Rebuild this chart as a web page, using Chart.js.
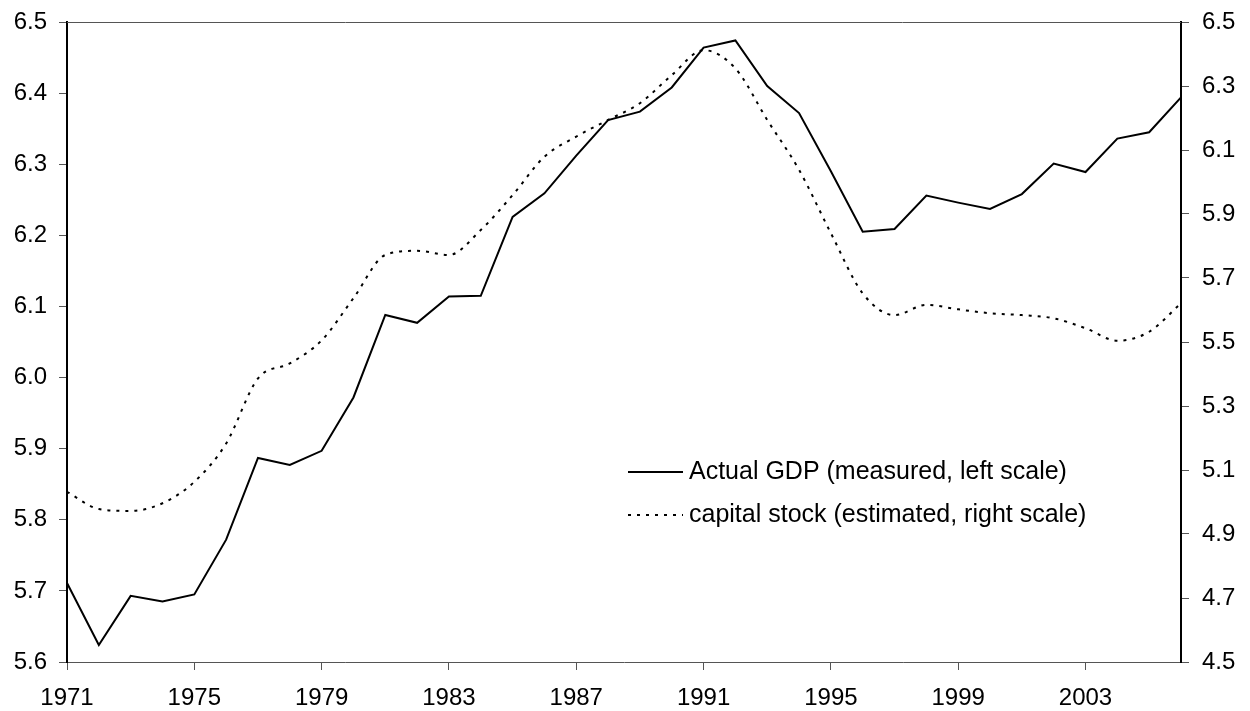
<!DOCTYPE html>
<html>
<head>
<meta charset="utf-8">
<script src="https://cdn.jsdelivr.net/npm/chart.js@4/dist/chart.umd.min.js"></script>
<style>
  html, body { margin: 0; padding: 0; background: #fff; }
  #wrap { width: 1250px; height: 711px; }
</style>
</head>
<body>
<div id="wrap"><canvas id="grafico"></canvas></div>
<script>
// años del eje x
const anios = [];
for (let a = 1971; a <= 2006; a++) anios.push(String(a));

// PIB medido (escala izquierda)
const pib = [5.711, 5.624, 5.693, 5.685, 5.695, 5.772, 5.887, 5.877, 5.897, 5.972,
  6.088, 6.077, 6.114, 6.115, 6.226, 6.259, 6.312, 6.362, 6.374, 6.408,
  6.464, 6.474, 6.410, 6.372, 6.290, 6.205, 6.209, 6.256, 6.246, 6.237,
  6.258, 6.301, 6.289, 6.336, 6.345, 6.394];

// stock de capital estimado (escala derecha)
const capital = [5.032, 4.978, 4.972, 4.996, 5.063, 5.183, 5.386, 5.433, 5.505, 5.637,
  5.772, 5.785, 5.772, 5.850, 5.959, 6.079, 6.142, 6.194, 6.246, 6.334,
  6.412, 6.355, 6.194, 6.038, 5.840, 5.652, 5.584, 5.616, 5.602, 5.590,
  5.584, 5.574, 5.543, 5.504, 5.532, 5.621];

// etiquetas de la leyenda
const nombres = ["Actual GDP (measured, left scale)", "capital stock (estimated, right scale)"];

const fuente = "Arial, 'Liberation Sans', sans-serif";

// ancho fijo de los ejes verticales, sin relleno extra arriba
function ajustarEjeY(ancho) {
  return s => {
    s.width = ancho;
    s.paddingTop = 0;
    s.paddingBottom = 0;
  };
}

// dibuja el borde superior y la leyenda dentro del grafico
const extras = {
  id: 'extras',
  afterDraw(chart) {
    const ctx = chart.ctx;
    const area = chart.chartArea;
    ctx.save();
    ctx.strokeStyle = '#555';
    ctx.lineWidth = 1;
    ctx.beginPath();
    ctx.moveTo(area.left, area.top + 0.5);
    ctx.lineTo(area.right, area.top + 0.5);
    ctx.stroke();

    const x0 = 628, x1 = 683, filas = [472, 515];
    ctx.strokeStyle = '#000';
    ctx.lineWidth = 2;
    ctx.setLineDash([]);
    ctx.beginPath();
    ctx.moveTo(x0, filas[0]);
    ctx.lineTo(x1, filas[0]);
    ctx.stroke();
    ctx.setLineDash([3, 6]);
    ctx.beginPath();
    ctx.moveTo(x0, filas[1]);
    ctx.lineTo(x1, filas[1]);
    ctx.stroke();
    ctx.setLineDash([]);
    ctx.fillStyle = '#000';
    ctx.font = '25px ' + fuente;
    ctx.textBaseline = 'middle';
    ctx.fillText(nombres[0], 689, filas[0]);
    ctx.fillText(nombres[1], 689, filas[1]);
    ctx.restore();
  }
};

const config = {
  type: 'line',
  data: {
    labels: anios,
    datasets: [{
      label: nombres[0],
      data: pib,
      yAxisID: 'y',
      borderColor: '#000',
      borderWidth: 2,
      pointRadius: 0,
      tension: 0
    }, {
      label: nombres[1],
      data: capital,
      yAxisID: 'y2',
      borderColor: '#000',
      borderWidth: 2,
      borderDash: [3, 6],
      pointRadius: 0,
      tension: 0.4,
      cubicInterpolationMode: 'monotone'
    }]
  },
  options: {
    responsive: false,
    animation: false,
    layout: { padding: { top: 22, left: 0, right: 0, bottom: 0 } },
    plugins: { legend: { display: false }, tooltip: { enabled: false } },
    scales: {
      x: {
        offset: false,
        afterFit: s => { s.height = 49; s.paddingLeft = 0; s.paddingRight = 0; },
        border: { display: true, color: '#555', width: 1 },
        grid: {
          drawOnChartArea: false,
          tickLength: 8,
          color: c => (c.index % 4 === 0 ? '#555' : 'rgba(0,0,0,0)')
        },
        ticks: {
          autoSkip: false,
          maxRotation: 0,
          color: '#000',
          font: { size: 24, family: fuente },
          padding: 14,
          callback: (v, i) => (i % 4 === 0 ? anios[i] : '')
        }
      },
      y: {
        position: 'left',
        min: 5.6,
        max: 6.5,
        afterFit: ajustarEjeY(67),
        border: { display: true, color: '#000', width: 2 },
        grid: { drawOnChartArea: false, tickLength: 8, color: '#555' },
        ticks: {
          stepSize: 0.1,
          color: '#000',
          font: { size: 24, family: fuente },
          padding: 12,
          callback: v => Number(v).toFixed(1)
        }
      },
      y2: {
        position: 'right',
        min: 4.5,
        max: 6.5,
        afterFit: ajustarEjeY(69),
        border: { display: true, color: '#000', width: 2 },
        grid: { drawOnChartArea: false, tickLength: 8, color: '#555' },
        ticks: {
          stepSize: 0.2,
          color: '#000',
          font: { size: 24, family: fuente },
          padding: 13,
          callback: v => Number(v).toFixed(1)
        }
      }
    }
  },
  plugins: [extras]
};

const canvas = document.getElementById('grafico');
canvas.width = 1250;
canvas.height = 711;
new Chart(canvas, config);
</script>
</body>
</html>
